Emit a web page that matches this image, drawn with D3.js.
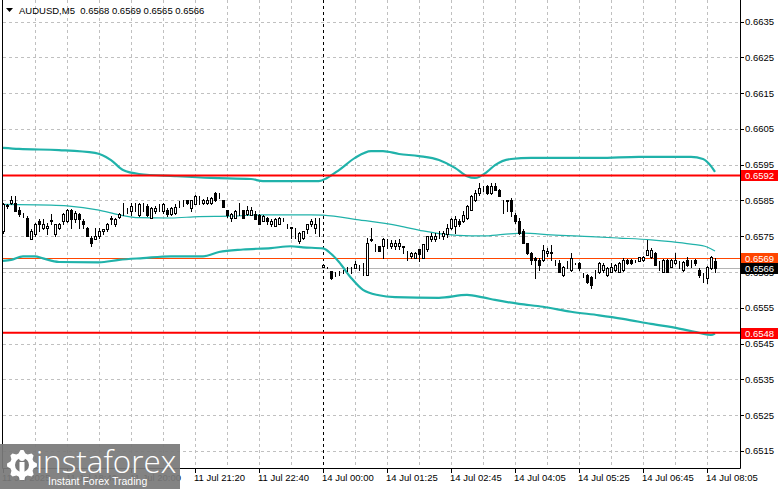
<!DOCTYPE html>
<html><head><meta charset="utf-8">
<script src="https://cdn.jsdelivr.net/npm/d3@7/dist/d3.min.js"></script>
<style>
html,body{margin:0;padding:0;background:#fff;overflow:hidden;}
svg{display:block;font-family:"Liberation Sans",Arial,sans-serif;}
</style></head><body>
<svg id="c" width="781" height="489"></svg>
<script>
const symbolName = "AUDUSD,M5";
const lastOHLC = ["0.6568", "0.6569", "0.6565", "0.6566"];

const opens = [0.65764,0.65835,0.65843,0.65843,0.65822,0.65815,0.65801,0.65741,0.65755,0.65794,
0.65773,0.65773,0.65794,0.65755,0.65773,0.65792,0.65792,0.65822,0.65797,0.65812,
0.65792,0.65773,0.65745,0.65741,0.65750,0.65764,0.65769,0.65800,0.65783,0.65803,
0.65822,0.65820,0.65820,0.65837,0.65810,0.65840,0.65834,0.65801,0.65820,0.65829,
0.65820,0.65822,0.65812,0.65815,0.65843,0.65846,0.65850,0.65829,0.65840,0.65850,
0.65843,0.65843,0.65843,0.65871,0.65870,0.65850,0.65822,0.65801,0.65801,0.65820,
0.65822,0.65812,0.65810,0.65812,0.65810,0.65794,0.65801,0.65783,0.65778,0.65783,
0.65797,0.65783,0.65775,0.65773,0.65736,0.65745,0.65769,0.65783,0.65773,0.65797,
0.65665,0.65662,0.65652,0.65650,0.65652,0.65655,0.65662,0.65660,0.65662,0.65668,
0.65673,0.65643,0.65740,0.65727,0.65722,0.65722,0.65731,0.65722,0.65722,0.65722,
0.65722,0.65708,0.65695,0.65689,0.65713,0.65689,0.65713,0.65741,0.65741,0.65755,
0.65750,0.65755,0.65773,0.65778,0.65794,0.65792,0.65801,0.65824,0.65850,0.65871,
0.65885,0.65890,0.65871,0.65890,0.65880,0.65850,0.65850,0.65850,0.65810,0.65792,
0.65764,0.65730,0.65703,0.65689,0.65684,0.65684,0.65703,0.65705,0.65684,0.65675,
0.65642,0.65679,0.65656,0.65675,0.65675,0.65647,0.65642,0.65637,0.65656,0.65651,
0.65656,0.65642,0.65651,0.65656,0.65651,0.65656,0.65684,0.65684,0.65684,0.65682,
0.65684,0.65698,0.65693,0.65703,0.65679,0.65651,0.65684,0.65665,0.65675,0.65679,
0.65656,0.65684,0.65684,0.65684,0.65656,0.65647,0.65633,0.65660,0.65680];

const highs = [0.65843,0.65840,0.65862,0.65862,0.65831,0.65816,0.65806,0.65769,0.65788,0.65797,
0.65797,0.65786,0.65812,0.65785,0.65788,0.65815,0.65826,0.65826,0.65820,0.65815,
0.65797,0.65776,0.65750,0.65773,0.65773,0.65770,0.65788,0.65806,0.65800,0.65815,
0.65843,0.65829,0.65843,0.65843,0.65843,0.65843,0.65840,0.65831,0.65834,0.65839,
0.65843,0.65830,0.65831,0.65839,0.65848,0.65852,0.65852,0.65852,0.65864,0.65862,
0.65855,0.65859,0.65860,0.65873,0.65872,0.65852,0.65824,0.65815,0.65822,0.65843,
0.65824,0.65834,0.65831,0.65820,0.65812,0.65810,0.65803,0.65797,0.65800,0.65803,
0.65801,0.65784,0.65776,0.65774,0.65762,0.65766,0.65785,0.65797,0.65801,0.65801,
0.65672,0.65663,0.65654,0.65651,0.65654,0.65656,0.65663,0.65663,0.65682,0.65670,
0.65674,0.65745,0.65773,0.65728,0.65724,0.65745,0.65741,0.65740,0.65740,0.65741,
0.65723,0.65709,0.65705,0.65705,0.65715,0.65729,0.65752,0.65759,0.65759,0.65764,
0.65764,0.65783,0.65801,0.65806,0.65797,0.65820,0.65836,0.65864,0.65880,0.65899,
0.65890,0.65892,0.65899,0.65899,0.65882,0.65851,0.65851,0.65857,0.65815,0.65801,
0.65769,0.65732,0.65705,0.65693,0.65689,0.65726,0.65716,0.65726,0.65685,0.65684,
0.65667,0.65680,0.65703,0.65676,0.65679,0.65648,0.65644,0.65640,0.65657,0.65677,
0.65675,0.65663,0.65675,0.65672,0.65677,0.65689,0.65686,0.65686,0.65685,0.65693,
0.65695,0.65740,0.65716,0.65705,0.65680,0.65686,0.65686,0.65686,0.65703,0.65680,
0.65681,0.65693,0.65685,0.65686,0.65661,0.65648,0.65667,0.65695,0.65690];

const lows = [0.65760,0.65829,0.65840,0.65820,0.65806,0.65803,0.65750,0.65741,0.65750,0.65764,
0.65770,0.65755,0.65783,0.65750,0.65770,0.65783,0.65790,0.65773,0.65790,0.65773,
0.65773,0.65750,0.65722,0.65741,0.65745,0.65755,0.65764,0.65783,0.65780,0.65800,
0.65810,0.65815,0.65810,0.65820,0.65806,0.65820,0.65806,0.65801,0.65815,0.65820,
0.65815,0.65808,0.65810,0.65812,0.65831,0.65834,0.65840,0.65820,0.65840,0.65840,
0.65840,0.65840,0.65840,0.65848,0.65857,0.65831,0.65803,0.65794,0.65800,0.65810,
0.65801,0.65810,0.65810,0.65799,0.65783,0.65794,0.65783,0.65778,0.65778,0.65783,
0.65792,0.65773,0.65745,0.65745,0.65731,0.65743,0.65759,0.65780,0.65759,0.65750,
0.65663,0.65660,0.65630,0.65640,0.65643,0.65648,0.65652,0.65648,0.65660,0.65657,
0.65643,0.65643,0.65738,0.65710,0.65710,0.65689,0.65717,0.65717,0.65715,0.65713,
0.65703,0.65685,0.65690,0.65689,0.65680,0.65689,0.65710,0.65736,0.65738,0.65745,
0.65741,0.65748,0.65769,0.65759,0.65778,0.65790,0.65797,0.65822,0.65848,0.65866,
0.65876,0.65868,0.65868,0.65878,0.65862,0.65815,0.65820,0.65808,0.65788,0.65755,
0.65730,0.65700,0.65673,0.65633,0.65656,0.65680,0.65695,0.65684,0.65670,0.65650,
0.65640,0.65660,0.65654,0.65672,0.65656,0.65637,0.65620,0.65605,0.65633,0.65647,
0.65651,0.65640,0.65649,0.65653,0.65649,0.65654,0.65673,0.65673,0.65677,0.65680,
0.65682,0.65698,0.65690,0.65670,0.65656,0.65650,0.65650,0.65663,0.65673,0.65661,
0.65654,0.65668,0.65665,0.65670,0.65637,0.65623,0.65619,0.65659,0.65650];

const closes = [0.65839,0.65837,0.65850,0.65820,0.65812,0.65814,0.65750,0.65764,0.65783,0.65783,
0.65783,0.65780,0.65795,0.65783,0.65783,0.65812,0.65822,0.65797,0.65815,0.65797,
0.65783,0.65750,0.65731,0.65750,0.65764,0.65769,0.65783,0.65799,0.65797,0.65812,
0.65823,0.65820,0.65834,0.65837,0.65840,0.65840,0.65810,0.65829,0.65829,0.65830,
0.65840,0.65812,0.65829,0.65831,0.65843,0.65846,0.65843,0.65850,0.65862,0.65850,
0.65852,0.65852,0.65857,0.65850,0.65870,0.65831,0.65810,0.65812,0.65820,0.65820,
0.65801,0.65822,0.65822,0.65799,0.65783,0.65806,0.65792,0.65794,0.65797,0.65801,
0.65797,0.65783,0.65774,0.65773,0.65759,0.65764,0.65783,0.65792,0.65783,0.65797,
0.65670,0.65662,0.65634,0.65650,0.65653,0.65655,0.65662,0.65661,0.65673,0.65667,
0.65672,0.65731,0.65741,0.65727,0.65710,0.65741,0.65731,0.65731,0.65731,0.65731,
0.65721,0.65708,0.65703,0.65703,0.65701,0.65727,0.65750,0.65750,0.65750,0.65755,
0.65759,0.65773,0.65797,0.65797,0.65783,0.65810,0.65834,0.65862,0.65871,0.65885,
0.65886,0.65871,0.65890,0.65880,0.65862,0.65850,0.65849,0.65820,0.65792,0.65759,
0.65731,0.65703,0.65684,0.65684,0.65670,0.65712,0.65708,0.65703,0.65684,0.65651,
0.65665,0.65679,0.65689,0.65674,0.65661,0.65647,0.65623,0.65614,0.65656,0.65675,
0.65670,0.65661,0.65665,0.65670,0.65675,0.65684,0.65675,0.65675,0.65684,0.65691,
0.65693,0.65712,0.65712,0.65670,0.65679,0.65684,0.65651,0.65684,0.65684,0.65679,
0.65679,0.65670,0.65684,0.65676,0.65642,0.65647,0.65665,0.65693,0.65660];

// Bollinger bands, read at selected bars
const upperBars = [0,4,14,23,27,30,34,43,52,62,65,79,81,84,88,92,95,99,104,109,113,116,118,121,123,127,132,149,159,172,175,177,178];
const upperVals = [0.65997,0.65994,0.65991,0.65983,0.65963,0.65935,0.65924,0.65918,0.65913,0.65910,0.65904,0.65904,0.65913,0.65935,0.65969,0.65988,0.65988,0.65980,0.65974,0.65963,0.65941,0.65918,0.65913,0.65930,0.65949,0.65966,0.65969,0.65969,0.65972,0.65972,0.65966,0.65946,0.65930];
const midBars = [0,12,16,24,29,34,42,49,57,65,77,80,89,99,105,110,117,120,125,130,137,147,154,162,167,172,176,178];
const midVals = [0.65839,0.65837,0.65835,0.65823,0.65810,0.65802,0.65801,0.65805,0.65806,0.65810,0.65810,0.65809,0.65796,0.65779,0.65765,0.65756,0.65751,0.65751,0.65755,0.65759,0.65754,0.65749,0.65745,0.65740,0.65735,0.65728,0.65720,0.65709];
const lowerBars = [0,2,5,8,10,14,24,29,35,42,50,54,60,67,72,75,80,82,84,87,90,94,98,109,116,120,123,129,135,142,149,155,162,169,174,177,178];
const lowerVals = [0.65681,0.65684,0.65694,0.65694,0.65688,0.65678,0.65677,0.65684,0.65689,0.65694,0.65694,0.65706,0.65713,0.65717,0.65722,0.65719,0.65716,0.65701,0.65678,0.65634,0.65600,0.65585,0.65580,0.65578,0.65586,0.65579,0.65572,0.65561,0.65553,0.65539,0.65529,0.65519,0.65505,0.65492,0.65480,0.65474,0.65478];

const levelPrices = [0.6592, 0.6548];
const askPrice = 0.6569;
const bidPrice = 0.6566;

const priceTicks = ["0.6515","0.6525","0.6535","0.6545","0.6555","0.6565","0.6575","0.6585","0.6595","0.6605","0.6615","0.6625","0.6635"];
const timeLabels = ["11 Jul 2025","11 Jul 18:40","11 Jul 20:00","11 Jul 21:20","11 Jul 22:40","14 Jul 00:00","14 Jul 01:25","14 Jul 02:45","14 Jul 04:05","14 Jul 05:25","14 Jul 06:45","14 Jul 08:05"];
const timeLabelBars = [0,16,32,48,64,80,96,112,128,144,160,176];
const gridBars = [8,16,24,32,40,48,56,64,72,88,96,104,112,120,128,136,144,152,160,168,176];
const sessionBreakBar = 80;

// ---------- drawing ----------
const W = 781, H = 489;
const plotL = 2, plotR = 740, plotT = 0, plotB = 468;
const svg = d3.select("#c");
const x = d3.scaleLinear().domain([0, 178]).range([3, 715]);
const y = d3.scaleLinear().domain([0.6515, 0.6635]).range([450.9, 21.6]);
const px = v => Math.round(v) + 0.5;

svg.append("rect").attr("width", W).attr("height", H).attr("fill", "#fff");

const gGrid = svg.append("g").attr("stroke", "#c0c0c0").attr("stroke-width", 1).attr("stroke-dasharray", "3,3");
gGrid.selectAll("line.h").data(priceTicks).join("line")
  .attr("x1", plotL + 1).attr("x2", plotR)
  .attr("y1", d => px(y(+d))).attr("y2", d => px(y(+d)));
gGrid.selectAll("line.v").data(gridBars).join("line")
  .attr("x1", d => px(x(d))).attr("x2", d => px(x(d)))
  .attr("y1", plotT).attr("y2", plotB);

// session separator
svg.append("line").attr("x1", px(x(sessionBreakBar))).attr("x2", px(x(sessionBreakBar)))
  .attr("y1", plotT).attr("y2", plotB).attr("stroke", "#000").attr("stroke-dasharray", "3,3");

// bid / ask lines
svg.append("line").attr("x1", plotL).attr("x2", plotR).attr("y1", px(y(bidPrice))).attr("y2", px(y(bidPrice)))
  .attr("stroke", "#b4b4b4");
svg.append("line").attr("x1", plotL).attr("x2", plotR).attr("y1", px(y(askPrice))).attr("y2", px(y(askPrice)))
  .attr("stroke", "#ff4500");

// Bollinger bands
const bandColor = "#20b2aa";
function band(bars, vals, w) {
  const pts = bars.map((b, i) => [x(b), y(vals[i])]);
  svg.append("path").attr("d", d3.line().curve(d3.curveMonotoneX)(pts))
    .attr("fill", "none").attr("stroke", bandColor).attr("stroke-width", w);
}
band(upperBars, upperVals, 2.2);
band(midBars, midVals, 1.2);
band(lowerBars, lowerVals, 2.2);

// horizontal levels
svg.selectAll("line.lvl").data(levelPrices).join("line")
  .attr("x1", plotL).attr("x2", plotR)
  .attr("y1", d => y(d)).attr("y2", d => y(d))
  .attr("stroke", "#ff0000").attr("stroke-width", 2);

// candles
const candles = d3.range(opens.length).map(i => ({i, o: opens[i], h: highs[i], l: lows[i], c: closes[i]}));
const gC = svg.append("g");
gC.selectAll("line").data(candles).join("line")
  .attr("x1", d => px(x(d.i))).attr("x2", d => px(x(d.i)))
  .attr("y1", d => Math.round(y(d.h))).attr("y2", d => Math.round(y(d.l)) + 1)
  .attr("stroke", "#000");
gC.selectAll("rect").data(candles).join("rect")
  .attr("x", d => Math.round(x(d.i)) - 0.5)
  .attr("width", 2)
  .attr("y", d => Math.round(y(Math.max(d.o, d.c))) + 0.5)
  .attr("height", d => Math.max(0, Math.round(y(Math.min(d.o, d.c))) - Math.round(y(Math.max(d.o, d.c)))))
  .attr("fill", d => d.c >= d.o ? "#fff" : "#000")
  .attr("stroke", "#000");

// frame
svg.append("path").attr("d", `M${plotL + 0.5},${plotT}V${plotB + 0.5}H${plotR + 0.5}V${plotT}`)
  .attr("fill", "none").attr("stroke", "#000");

// right axis ticks + labels
const gY = svg.append("g");
gY.selectAll("line").data(priceTicks).join("line")
  .attr("x1", plotR + 1).attr("x2", plotR + 4)
  .attr("y1", d => px(y(+d))).attr("y2", d => px(y(+d))).attr("stroke", "#000");
gY.selectAll("text").data(priceTicks).join("text")
  .attr("x", 745).attr("y", d => y(+d) + 3.5)
  .attr("font-size", "9.5px").attr("fill", "#000").text(d => d);

// price boxes
const boxes = [
  {p: levelPrices[0], t: "0.6592", fill: "#ff0000"},
  {p: levelPrices[1], t: "0.6548", fill: "#ff0000"},
  {p: askPrice, t: "0.6569", fill: "#ff4500"},
  {p: bidPrice, t: "0.6566", fill: "#000000"}
];
const gB = svg.append("g");
gB.selectAll("rect").data(boxes).join("rect")
  .attr("x", 741).attr("width", 37).attr("y", d => Math.round(y(d.p)) - 5).attr("height", 11)
  .attr("fill", d => d.fill);
gB.selectAll("text").data(boxes).join("text")
  .attr("x", 745).attr("y", d => Math.round(y(d.p)) + 4)
  .attr("font-size", "9.5px").attr("fill", "#fff").text(d => d.t);

// time axis
const gX = svg.append("g");
gX.selectAll("line").data(timeLabelBars).join("line")
  .attr("x1", d => px(x(d))).attr("x2", d => px(x(d)))
  .attr("y1", plotB + 1).attr("y2", plotB + 5).attr("stroke", "#000");
gX.selectAll("text").data(timeLabels).join("text")
  .attr("x", (d, i) => Math.round(x(timeLabelBars[i])) - 1).attr("y", 480.5)
  .attr("font-size", "9.5px").attr("fill", "#000").text(d => d);

// title
svg.append("path").attr("d", "M6,8H13L9.5,12Z").attr("fill", "#000");
svg.append("text").attr("x", 19).attr("y", 13.5).attr("font-size", "9.5px").attr("fill", "#000")
  .attr("xml:space", "preserve")
  .text(symbolName + "  " + lastOHLC.join(" "));

// watermark
const wm = svg.append("g");
wm.append("rect").attr("x", 0).attr("y", 444).attr("width", 180).attr("height", 45).attr("fill", "#7a7a7a").attr("opacity", 0.93);
const gc = [22, 465], nT = 8;
const gearPts = [];
d3.range(nT * 4).forEach(k => {
  const a = (k / (nT * 4)) * 2 * Math.PI;
  const r = (k % 4 === 0 || k % 4 === 1) ? 15 : 12;
  gearPts.push([gc[0] + r * Math.cos(a - 0.1), gc[1] + r * Math.sin(a - 0.1)]);
});
wm.append("path").attr("d", d3.line().curve(d3.curveLinearClosed)(gearPts)).attr("fill", "#fff");
wm.append("circle").attr("cx", gc[0]).attr("cy", gc[1]).attr("r", 7).attr("fill", "#7a7a7a");
wm.append("rect").attr("x", gc[0] - 2.5).attr("y", gc[1] - 3).attr("width", 5).attr("height", 18).attr("fill", "#fff");
wm.append("circle").attr("cx", gc[0]).attr("cy", gc[1] - 7).attr("r", 3).attr("fill", "#fff");
wm.append("text").attr("x", 36).attr("y", 473).attr("font-size", "31.4px").attr("fill", "#fff")
  .attr("font-family", "'Open Sans', sans-serif").attr("font-weight", 300).text("instaforex");
wm.append("text").attr("x", 48).attr("y", 485).attr("font-size", "10.5px").attr("fill", "#fff")
  .text("Instant Forex Trading");
</script>
</body></html>
